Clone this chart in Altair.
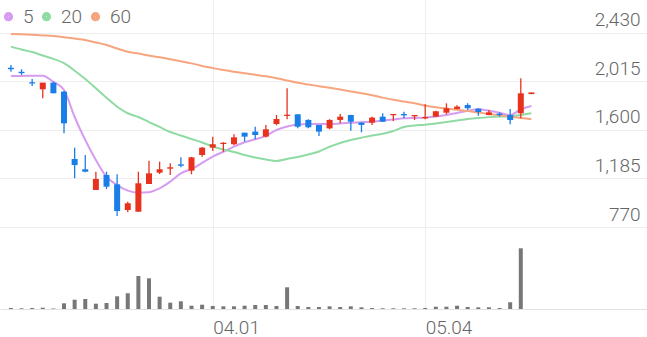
import altair as alt
import pandas as pd

# ---- data ----
idx = list(range(50))
opens = [2132, 2098, 2009, 1948, 2005, 1928, 1352, 1264, 1087, 1215,
         1135, 915, 901, 1138, 1235, 1269, 1306, 1252, 1386, 1449,
         1480, 1478, 1577, 1586, 1543, 1651, 1720, 1734, 1686, 1643,
         1614, 1686, 1728, 1663, 1663, 1714, 1726, 1737, 1717, 1700,
         1714, 1748, 1780, 1814, 1782, 1728, 1740, 1728, 1743, 1907]
highs = [2156, 2119, 2036, 2005, 2013, 1934, 1449, 1386, 1243, 1243,
         1221, 987, 1243, 1337, 1329, 1315, 1366, 1370, 1455, 1543,
         1495, 1563, 1577, 1628, 1643, 1728, 1957, 1734, 1692, 1643,
         1692, 1737, 1731, 1666, 1714, 1743, 1737, 1757, 1728, 1820,
         1765, 1828, 1811, 1828, 1785, 1771, 1751, 1780, 2042, 1921]
lows = [2099, 2071, 1976, 1871, 1914, 1572, 1187, 1238, 1087, 1095,
        864, 896, 901, 1138, 1223, 1215, 1281, 1221, 1372, 1420,
        1414, 1470, 1500, 1520, 1535, 1640, 1692, 1614, 1614, 1549,
        1606, 1657, 1594, 1580, 1643, 1668, 1677, 1700, 1686, 1692,
        1711, 1734, 1777, 1771, 1722, 1725, 1714, 1649, 1700, 1907]
closes = [2120, 2086, 1997, 2005, 1914, 1657, 1300, 1243, 1181, 1115,
          907, 973, 1144, 1229, 1264, 1281, 1294, 1366, 1449, 1478,
          1491, 1537, 1543, 1557, 1606, 1694, 1731, 1628, 1623, 1586,
          1686, 1714, 1671, 1643, 1706, 1671, 1737, 1725, 1728, 1711,
          1760, 1786, 1800, 1786, 1754, 1751, 1728, 1686, 1914, 1921]
volumes = [10000, 7000, 10000, 13000, 5000, 57000, 93000, 100000, 53000, 60000,
           127000, 157000, 330000, 307000, 123000, 63000, 77000, 33000, 43000, 30000,
           27000, 27000, 33000, 40000, 40000, 30000, 217000, 30000, 20000, 20000,
           27000, 20000, 27000, 17000, 10000, 7000, 7000, 7000, 7000, 10000,
           23000, 23000, 33000, 20000, 17000, 17000, 10000, 67000, 607000, 0]
ma5 = [2062, 2062, 2064, 2065, 2011, 1942, 1711, 1514, 1343, 1198,
       1129, 1081, 1064, 1068, 1101, 1158, 1229, 1266, 1318, 1373,
       1414, 1457, 1495, 1520, 1549, 1600, 1630, 1647, 1651, 1651,
       1651, 1656, 1662, 1667, 1671, 1681, 1690, 1700, 1703, 1705,
       1715, 1728, 1745, 1765, 1777, 1765, 1748, 1728, 1777, 1805]
ma20 = [2313, 2289, 2267, 2237, 2208, 2171, 2107, 2036, 1957, 1876,
        1799, 1743, 1711, 1668, 1626, 1583, 1553, 1523, 1493, 1459,
        1433, 1412, 1386, 1365, 1348, 1335, 1352, 1369, 1390, 1416,
        1457, 1489, 1514, 1534, 1553, 1567, 1591, 1626, 1638, 1645,
        1656, 1668, 1681, 1694, 1703, 1710, 1715, 1718, 1728, 1743]
ma60 = [2421, 2418, 2414, 2409, 2404, 2393, 2382, 2370, 2349, 2327,
        2297, 2270, 2254, 2237, 2222, 2205, 2188, 2170, 2148, 2130,
        2113, 2099, 2086, 2072, 2059, 2042, 2023, 2004, 1989, 1975,
        1961, 1946, 1930, 1915, 1898, 1877, 1858, 1843, 1829, 1809,
        1794, 1783, 1773, 1762, 1750, 1737, 1726, 1714, 1703, 1692]

date_tick_pos = [19, 39]
date_tick_labels = ["04.01", "05.04"]
price_ticks = [770, 1185, 1600, 2015, 2430]
ma_names = ["5", "20", "60"]
ma_colors = ["#d69cf0", "#8fdba3", "#f7a57f"]

UP = "#e8321e"
DOWN = "#1a7ee8"
GRID = "#eeeeee"
LABEL = "#666666"
FONT = "Roboto"

df = pd.DataFrame({"i": idx, "open": opens, "high": highs, "low": lows,
                   "close": closes, "vol": volumes})
ma_df = pd.DataFrame({"i": idx * 3,
                      "ma": ["5"] * 50 + ["20"] * 50 + ["60"] * 50,
                      "value": ma5 + ma20 + ma60})

# shared x scale; price occupies the top, volume the bottom of one 309px plot
xscale = alt.Scale(domain=[-0.556, 59.41], nice=False, zero=False)
pscale = alt.Scale(domain=[68.5, 2712], nice=False, zero=False)
vscale = alt.Scale(domain=[0, 3090000], nice=False, zero=False)

label_expr = " : ".join(
    [f"datum.value == {p} ? '{l}'" for p, l in zip(date_tick_pos, date_tick_labels)]
) + " : ''"

x_axis = alt.Axis(values=date_tick_pos, labelExpr=label_expr, grid=True,
                  gridColor=GRID, ticks=False, domain=True, domainColor="#e2e2e2",
                  labelAlign="left", labelBaseline="alphabetic", labelPadding=24,
                  labelFontSize=19, labelColor=LABEL, labelFont=FONT,
                  labelFontWeight=300, labelFlush=False, labelOverlap=False,
                  title=None)
y_axis = alt.Axis(orient="right", values=price_ticks, grid=True, gridColor=GRID,
                  domain=False, ticks=False, labelAlign="right", labelPadding=-7,
                  labelBaseline="alphabetic", labelOffset=-7, labelFontSize=19,
                  labelColor=LABEL, labelFont=FONT, labelFontWeight=300,
                  labelOverlap=False, format=",d", title=None)

cond_color = alt.condition("datum.close >= datum.open", alt.value(UP), alt.value(DOWN))

lines = alt.Chart(ma_df).mark_line(interpolate="monotone").encode(
    x=alt.X("i:Q", scale=xscale, axis=x_axis),
    y=alt.Y("value:Q", scale=pscale, axis=y_axis),
    color=alt.Color("ma:N", scale=alt.Scale(domain=ma_names, range=ma_colors),
                    legend=alt.Legend(title=None, orient="none", legendX=-1, legendY=7,
                                      direction="horizontal", symbolType="circle",
                                      symbolSize=18, symbolStrokeWidth=5,
                                      labelFontSize=19, labelColor=LABEL,
                                      labelFont=FONT, labelFontWeight=300,
                                      labelOffset=5, columnPadding=0, padding=0)),
)

wicks = alt.Chart(df).mark_rule(strokeWidth=1.3).encode(
    x=alt.X("i:Q", scale=xscale, axis=x_axis),
    y=alt.Y("low:Q", scale=pscale, axis=y_axis),
    y2="high:Q",
    color=cond_color,
)

bodies = alt.Chart(df).mark_bar(size=6).encode(
    x=alt.X("i:Q", scale=xscale, axis=x_axis),
    y=alt.Y("open:Q", scale=pscale, axis=y_axis),
    y2="close:Q",
    color=cond_color,
)

price = alt.layer(lines, wicks, bodies)

vol = alt.Chart(df).mark_bar(size=4, color="#777777").encode(
    x=alt.X("i:Q", scale=xscale, axis=x_axis),
    y=alt.Y("vol:Q", scale=vscale, axis=None),
)

chart = alt.layer(price, vol).resolve_scale(y="independent").properties(
    width=647, height=309,
    autosize=alt.AutoSizeParams(type="none"),
    padding={"left": 0, "top": 0, "right": 0, "bottom": 28},
    background="white",
).configure_view(stroke="transparent")

chart.save("out.html", embed_options={"renderer": "svg", "actions": False})
